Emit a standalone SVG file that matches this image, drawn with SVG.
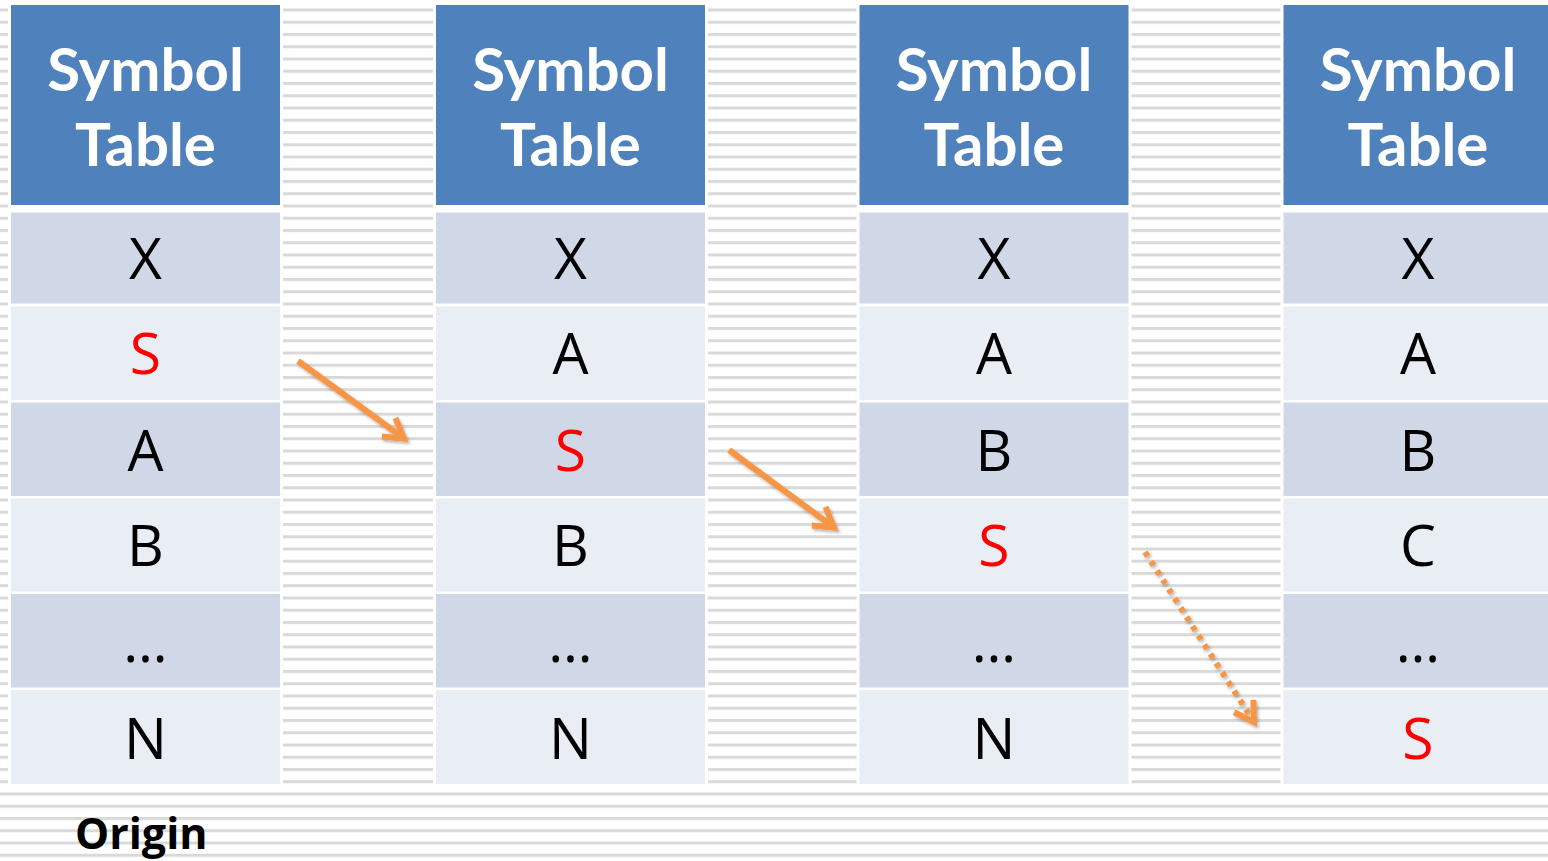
<svg xmlns="http://www.w3.org/2000/svg" width="1548" height="861" viewBox="0 0 1548 861">
  <defs>
    <style>
      .back { fill: #ffffff; }
      .head { fill: #4f81bd; }
      .dark { fill: #d0d8e8; }
      .light { fill: #e9edf4; }
      .title { font-family: Lato, "Open Sans", "Liberation Sans", sans-serif; font-weight: 700; font-size: 60px; fill: #ffffff; text-anchor: middle; }
      .cell { font-family: "Open Sans", "Noto Sans", "Liberation Sans", sans-serif; font-size: 57px; fill: #000000; text-anchor: middle; }
      .moved { fill: #ff0000; }
      .label { font-family: "Open Sans", "Noto Sans", "Liberation Sans", sans-serif; font-weight: 700; font-size: 43px; fill: #000000; }
      .link { fill: none; stroke: #f79646; stroke-width: 6; marker-end: url(#head); }
      .dotted { stroke-dasharray: 5 6; }
    </style>
    <pattern id="stripes" patternUnits="userSpaceOnUse" x="0" y="8.5" width="1548" height="12.25">
      <rect x="0" y="0" width="1548" height="3" fill="#d9d9d9"/>
    </pattern>
    <marker id="head" markerUnits="userSpaceOnUse" viewBox="-30 -20 40 40" markerWidth="40" markerHeight="40" refX="0" refY="0" orient="auto">
      <path d="M-19,-11.5 L0,0 L-19,11.5" fill="none" stroke="#f79646" stroke-width="6" stroke-linejoin="miter"/>
    </marker>
    <filter id="shadow" x="-20%" y="-20%" width="140%" height="140%">
      <feDropShadow dx="1.5" dy="2" stdDeviation="1.5" flood-color="#000000" flood-opacity="0.3"/>
    </filter>
  </defs>

  <!-- striped backdrop -->
  <rect x="0" y="0" width="1548" height="861" fill="#ffffff"/>
  <rect x="0" y="0" width="1548" height="861" fill="url(#stripes)"/>

  <!-- table 1: origin -->
  <g id="table-origin" transform="translate(11,0)">
    <rect class="back" x="-3" y="0" width="275" height="787"/>
    <rect class="head" x="0" y="5" width="269" height="200"/>
    <text class="title" x="134.5" y="91">Symbol</text>
    <text class="title" x="134.5" y="166">Table</text>
    <rect class="dark" x="0" y="212.5" width="269" height="91"/>
    <rect class="light" x="0" y="306.5" width="269" height="93.5"/>
    <rect class="dark" x="0" y="402.5" width="269" height="93.5"/>
    <rect class="light" x="0" y="498.5" width="269" height="93"/>
    <rect class="dark" x="0" y="594" width="269" height="93.5"/>
    <rect class="light" x="0" y="690" width="269" height="94"/>
    <text class="cell" x="134.5" y="278.5">X</text>
    <text class="cell moved" x="134.5" y="374">S</text>
    <text class="cell" x="134.5" y="470.5">A</text>
    <text class="cell" x="134.5" y="566">B</text>
    <text class="cell" x="134.5" y="662">…</text>
    <text class="cell" x="134.5" y="758.5">N</text>
  </g>

  <!-- table 2 -->
  <g id="table-step-1" transform="translate(436,0)">
    <rect class="back" x="-3" y="0" width="275" height="787"/>
    <rect class="head" x="0" y="5" width="269" height="200"/>
    <text class="title" x="134.5" y="91">Symbol</text>
    <text class="title" x="134.5" y="166">Table</text>
    <rect class="dark" x="0" y="212.5" width="269" height="91"/>
    <rect class="light" x="0" y="306.5" width="269" height="93.5"/>
    <rect class="dark" x="0" y="402.5" width="269" height="93.5"/>
    <rect class="light" x="0" y="498.5" width="269" height="93"/>
    <rect class="dark" x="0" y="594" width="269" height="93.5"/>
    <rect class="light" x="0" y="690" width="269" height="94"/>
    <text class="cell" x="134.5" y="278.5">X</text>
    <text class="cell" x="134.5" y="374">A</text>
    <text class="cell moved" x="134.5" y="470.5">S</text>
    <text class="cell" x="134.5" y="566">B</text>
    <text class="cell" x="134.5" y="662">…</text>
    <text class="cell" x="134.5" y="758.5">N</text>
  </g>

  <!-- table 3 -->
  <g id="table-step-2" transform="translate(859.5,0)">
    <rect class="back" x="-3" y="0" width="275" height="787"/>
    <rect class="head" x="0" y="5" width="269" height="200"/>
    <text class="title" x="134.5" y="91">Symbol</text>
    <text class="title" x="134.5" y="166">Table</text>
    <rect class="dark" x="0" y="212.5" width="269" height="91"/>
    <rect class="light" x="0" y="306.5" width="269" height="93.5"/>
    <rect class="dark" x="0" y="402.5" width="269" height="93.5"/>
    <rect class="light" x="0" y="498.5" width="269" height="93"/>
    <rect class="dark" x="0" y="594" width="269" height="93.5"/>
    <rect class="light" x="0" y="690" width="269" height="94"/>
    <text class="cell" x="134.5" y="278.5">X</text>
    <text class="cell" x="134.5" y="374">A</text>
    <text class="cell" x="134.5" y="470.5">B</text>
    <text class="cell moved" x="134.5" y="566">S</text>
    <text class="cell" x="134.5" y="662">…</text>
    <text class="cell" x="134.5" y="758.5">N</text>
  </g>

  <!-- table 4 -->
  <g id="table-step-3" transform="translate(1283.5,0)">
    <rect class="back" x="-3" y="0" width="275" height="787"/>
    <rect class="head" x="0" y="5" width="269" height="200"/>
    <text class="title" x="134.5" y="91">Symbol</text>
    <text class="title" x="134.5" y="166">Table</text>
    <rect class="dark" x="0" y="212.5" width="269" height="91"/>
    <rect class="light" x="0" y="306.5" width="269" height="93.5"/>
    <rect class="dark" x="0" y="402.5" width="269" height="93.5"/>
    <rect class="light" x="0" y="498.5" width="269" height="93"/>
    <rect class="dark" x="0" y="594" width="269" height="93.5"/>
    <rect class="light" x="0" y="690" width="269" height="94"/>
    <text class="cell" x="134.5" y="278.5">X</text>
    <text class="cell" x="134.5" y="374">A</text>
    <text class="cell" x="134.5" y="470.5">B</text>
    <text class="cell" x="134.5" y="566">C</text>
    <text class="cell" x="134.5" y="662">…</text>
    <text class="cell moved" x="134.5" y="758.5">S</text>
  </g>

  <!-- moves of S between tables -->
  <g id="connectors" filter="url(#shadow)">
    <path class="link" d="M298,361 L404,438.5"/>
    <path class="link" d="M729,450 L834,527.5"/>
    <path class="link dotted" d="M1145,552 L1254,722"/>
  </g>

  <g id="caption">
    <text class="label" x="75" y="849">Origin</text>
  </g>
</svg>
